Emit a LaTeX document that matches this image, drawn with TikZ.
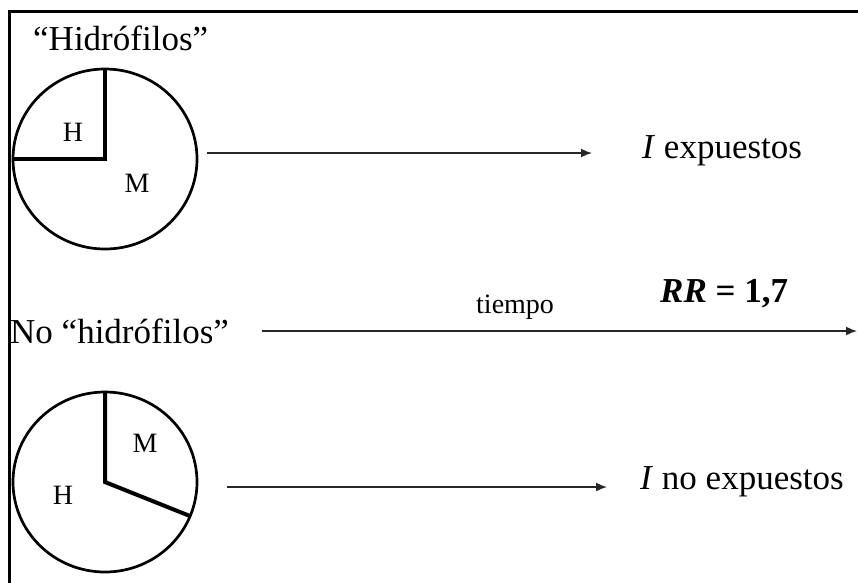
\documentclass[tikz,border=0pt]{standalone}
\usepackage{fontspec}
\setmainfont{Liberation Serif}
\usetikzlibrary{arrows.meta}
\tikzset{
  big/.style={font=\fontsize{35}{40}\selectfont, inner sep=0pt},
  small/.style={font=\fontsize{28}{32}\selectfont, inner sep=0pt},
  mid/.style={font=\fontsize{28}{32}\selectfont, inner sep=0pt},
  pie/.style={line width=2.7pt},
  sector/.style={line width=4pt},
  flow/.style={line width=1.6pt, draw=black!85, -{Latex[length=11pt,width=9pt]}},
  frame/.style={line width=3pt}
}
\begin{document}
\begin{tikzpicture}[x=1pt,y=-1pt]
\useasboundingbox (0,0) rectangle (858,582);
\fill[white] (0,0) rectangle (858,582);
% frame
\draw[frame] (9,583) -- (9,11) -- (859,11);
% upper group
\node[big, anchor=base west] (hidro) at (33,50) {“Hidrófilos”};
\coordinate (c1) at (105,159);
\draw[pie] (c1) ellipse [x radius=92pt, y radius=90pt];
\coordinate (c1t) at (105,69);
\coordinate (c1l) at (13,159);
\draw[sector, line join=miter] (c1t) -- (c1) -- (c1l);
\node[small] (h1) at (73,132) {H};
\node[small] (m1) at (137,183) {M};
\node[big, anchor=base west] (iexp) at (642,158) {\textit{I} expuestos};
\coordinate (a1s) at (207,153);
\coordinate (a1e) at (592,153);
\draw[flow] (a1s) -- (a1e);
% middle
\node[big, anchor=base west] (nohidro) at (10,343) {No “hidrófilos”};
\node[mid, anchor=base west] (tiempo) at (476,313) {tiempo};
\node[big, anchor=base west] (rr) at (660,302) {\textbf{\textit{RR}} \textbf{= 1,7}};
\coordinate (a2s) at (262,331);
\coordinate (a2e) at (857,331);
\draw[flow] (a2s) -- (a2e);
% lower group
\coordinate (c2) at (105,482);
\draw[pie] (c2) ellipse [x radius=92pt, y radius=90pt];
\coordinate (c2t) at (105,392);
\coordinate (c2r) at (190,516);
\draw[sector, line join=miter] (c2t) -- (c2) -- (c2r);
\node[small] (m2) at (145,443) {M};
\node[small] (h2) at (63,495) {H};
\node[big, anchor=base west] (inoexp) at (640,489) {\textit{I} no expuestos};
\coordinate (a3s) at (227,487);
\coordinate (a3e) at (607,487);
\draw[flow] (a3s) -- (a3e);
\end{tikzpicture}
\end{document}
